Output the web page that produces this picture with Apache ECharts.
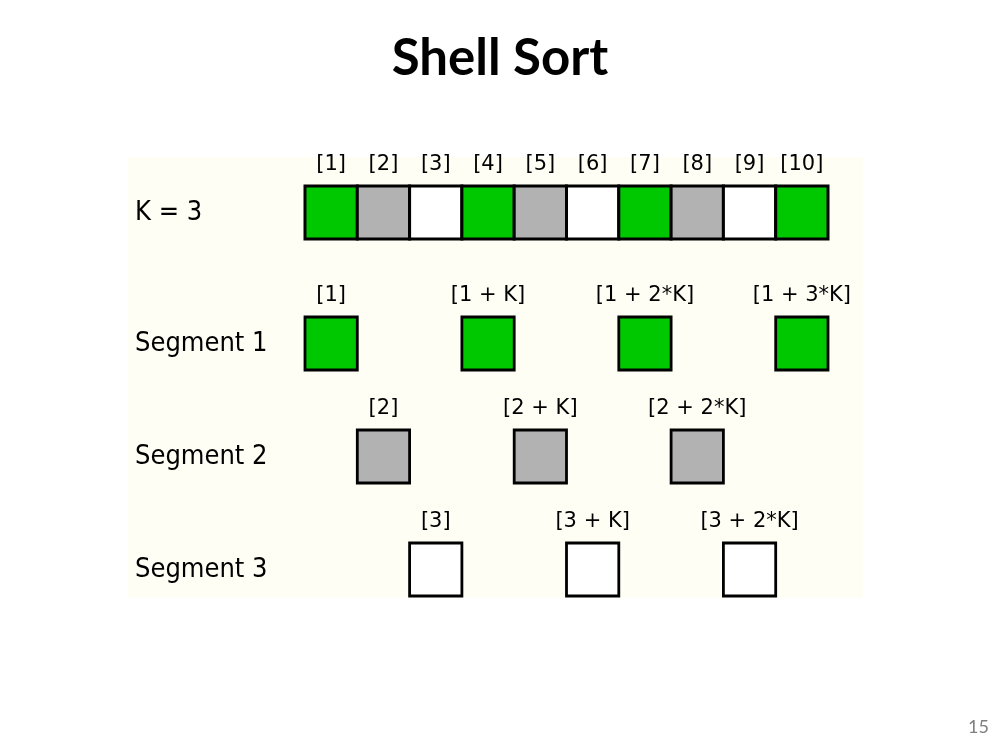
<!DOCTYPE html>
<html>
<head>
<meta charset="utf-8">
<script src="https://cdn.jsdelivr.net/npm/echarts@6/dist/echarts.min.js"></script>
<style>
  html, body { margin: 0; padding: 0; background: #ffffff; }
  #main { width: 1000px; height: 750px; }
</style>
</head>
<body>
<div id="main"></div>
<script>
// the whole array, k = 3
var arrayLabels = ['[1]', '[2]', '[3]', '[4]', '[5]', '[6]', '[7]', '[8]', '[9]', '[10]'];
var arrayIndex = [1, 2, 3, 4, 5, 6, 7, 8, 9, 10];
var arrayGroup = [0, 1, 2, 0, 1, 2, 0, 1, 2, 0];

// the three segments
var rowNames = ['K = 3', 'Segment 1', 'Segment 2', 'Segment 3'];
var seg1Index = [1, 4, 7, 10];
var seg1Labels = ['[1]', '[1 + K]', '[1 + 2*K]', '[1 + 3*K]'];
var seg2Index = [2, 5, 8];
var seg2Labels = ['[2]', '[2 + K]', '[2 + 2*K]'];
var seg3Index = [3, 6, 9];
var seg3Labels = ['[3]', '[3 + K]', '[3 + 2*K]'];

var groupColors = ['#00c800', '#b2b2b2', '#ffffff'];

var gridTops = [186, 317, 430, 543];

function makeItems(idx, labels, groups) {
	var out = [];
	idx.forEach(function(v, i) {
		out.push({ value: [v, 1], name: labels[i], group: groups[i] });
	});
	return out;
}

function boxRender(params, api) {
	var x = api.value(0);
	var p0 = api.coord([x - 0.5, 1]);
	var p1 = api.coord([x + 0.5, 0]);
	var item = params.context.items[params.dataIndex];
	return {
		type: 'group',
		children: [{
			type: 'rect',
			shape: { x: p0[0], y: p0[1], width: p1[0] - p0[0], height: p1[1] - p0[1] },
			style: { fill: groupColors[item.group], stroke: '#000000', lineWidth: params.context.lw }
		}, {
			type: 'text',
			x: (p0[0] + p1[0]) / 2,
			y: p0[1] - 21,
			style: {
				text: item.name,
				fill: '#000000',
				font: '21px "DejaVu Sans"',
				align: 'center',
				verticalAlign: 'middle'
			}
		}]
	};
}

function rowSeries(gi, items, lw) {
	return {
		type: 'custom',
		xAxisIndex: gi,
		yAxisIndex: gi,
		data: items.map(function(d) { return d.value; }),
		renderItem: function(params, api) {
			params.context.items = items;
			params.context.lw = lw;
			return boxRender(params, api);
		},
		silent: true
	};
}

var rows = [
	makeItems(arrayIndex, arrayLabels, arrayGroup),
	makeItems(seg1Index, seg1Labels, seg1Index.map(function() { return 0; })),
	makeItems(seg2Index, seg2Labels, seg2Index.map(function() { return 1; })),
	makeItems(seg3Index, seg3Labels, seg3Index.map(function() { return 2; }))
];

var grids = [], xAxes = [], yAxes = [], series = [];
gridTops.forEach(function(top, gi) {
	grids.push({ left: 305, right: 172, top: top, height: 53 });
	xAxes.push({ type: 'value', gridIndex: gi, min: 0.5, max: 10.5, show: false });
	yAxes.push({
		type: 'value', gridIndex: gi, min: 0, max: 1,
		axisLine: { show: false }, axisTick: { show: false }, splitLine: { show: false },
		axisLabel: {
			show: true,
			formatter: function(v) { return v === 0.5 ? rowNames[gi] : ''; },
			customValues: [0.5],
			align: 'left',
			margin: 170,
			color: '#000000',
			fontFamily: 'DejaVu Sans Condensed',
			fontSize: 27
		}
	});
	series.push(rowSeries(gi, rows[gi], gi === 0 ? 3 : 2.8));
});

var chart = echarts.init(document.getElementById('main'));
chart.setOption({
	backgroundColor: '#ffffff',
	animation: false,
	title: {
		text: 'Shell Sort',
		left: 'center',
		top: 28,
		textStyle: { fontFamily: 'Lato', fontWeight: 'bold', fontSize: 51, color: '#000000' }
	},
	graphic: [{
		type: 'rect',
		z: -10,
		shape: { x: 128, y: 157, width: 735, height: 441 },
		style: { fill: '#fefef5' }
	}, {
		type: 'text',
		right: 11,
		top: 718,
		style: { text: '15', fill: '#7f7f7f', font: '18px Lato' }
	}],
	grid: grids,
	xAxis: xAxes,
	yAxis: yAxes,
	series: series
});
</script>
</body>
</html>
